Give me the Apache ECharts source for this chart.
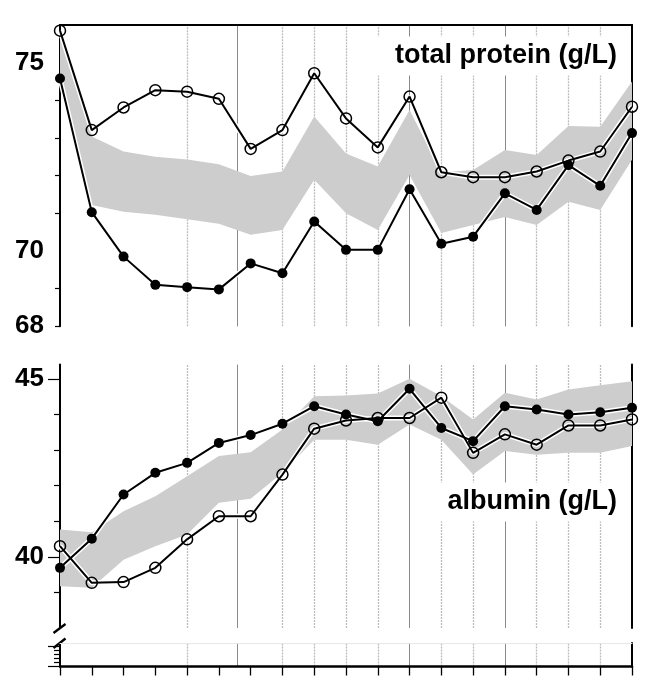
<!DOCTYPE html>
<html>
<head>
<meta charset="utf-8">
<script src="https://cdn.jsdelivr.net/npm/echarts@6/dist/echarts.min.js"></script>
<style>
html,body{margin:0;padding:0;background:#fff;}
#chart{width:645px;height:676px;}
</style>
</head>
<body>
<div id="chart"></div>
<script>
// ---- data ----
const timepoints = [0,1,2,3,4,5,6,7,8,9,10,11,12,13,14,15,16,17,18];

const proteinOpen   = [75.85, 73.21, 73.81, 74.27, 74.23, 74.04, 72.71, 73.21, 74.72, 73.52, 72.75, 74.10, 72.09, 71.96, 71.96, 72.11, 72.40, 72.64, 73.83];
const proteinFilled = [74.58, 71.03, 69.85, 69.10, 69.04, 68.98, 69.67, 69.41, 70.78, 70.03, 70.03, 71.64, 70.19, 70.38, 71.53, 71.09, 72.28, 71.73, 73.13];
const proteinBandHigh = [75.70, 73.04, 72.64, 72.50, 72.43, 72.30, 71.99, 72.11, 73.57, 72.59, 72.24, 73.74, 72.09, 72.15, 72.68, 72.55, 73.32, 73.30, 74.50];
const proteinBandLow  = [74.60, 71.22, 71.04, 70.96, 70.84, 70.72, 70.43, 70.56, 71.89, 71.00, 70.56, 72.02, 70.48, 70.69, 70.90, 70.69, 71.31, 71.09, 72.42];

const albuminFilled = [39.69, 40.51, 41.75, 42.36, 42.64, 43.20, 43.42, 43.74, 44.23, 44.00, 43.81, 44.72, 43.62, 43.25, 44.23, 44.14, 44.00, 44.06, 44.19];
const albuminOpen   = [40.30, 39.27, 39.29, 39.69, 40.49, 41.14, 41.14, 42.31, 43.60, 43.83, 43.90, 43.90, 44.47, 42.92, 43.44, 43.15, 43.69, 43.69, 43.86];
const albuminBandHigh = [40.77, 40.69, 41.28, 41.70, 42.26, 42.83, 42.94, 43.58, 44.51, 44.53, 44.59, 45.00, 44.51, 43.86, 44.61, 44.42, 44.70, 44.82, 44.93];
const albuminBandLow  = [39.17, 39.13, 39.92, 40.30, 40.63, 41.52, 41.63, 42.36, 43.29, 43.29, 43.15, 43.72, 43.29, 42.31, 42.97, 42.87, 42.92, 42.92, 43.11];

const solidGuides  = [5.57, 11, 14];
const dottedGuides = [4, 7, 8, 9, 10, 12, 13, 15, 16, 17];

const proteinLabelTicks = [68, 70, 75];
const proteinMinorTicks = [68, 69, 71, 72, 73, 74];
const albuminMajorTicks = [40, 45];
const albuminMinorTicks = [39, 41, 42, 43, 44];
const breakMajorTicks = [0, 5];
const breakMinorTicks = [1, 2, 3, 4];

const proteinTitle = 'total protein (g/L)';
const albuminTitle = 'albumin (g/L)';

// ---- chart ----
const FONT = '"Liberation Sans", Arial, Helvetica, sans-serif';
const pairs = (ys) => timepoints.map((x, i) => [x, ys[i]]);

function guideSeries(xi, yi) {
  return {
    type: 'line', xAxisIndex: xi, yAxisIndex: yi, data: [], z: 0, silent: true,
    markLine: {
      silent: true, symbol: 'none', label: {show: false}, animation: false, z: 0,
      data: solidGuides.map(v => ({xAxis: v, lineStyle: {color: '#8a8a8a', width: 1, type: 'solid'}}))
        .concat(dottedGuides.map(v => ({xAxis: v, lineStyle: {color: '#bdbdbd', width: 1.3, type: [2, 1]}})))
    }
  };
}
function bandSeries(xi, yi, hi, lo) {
  return {
    type: 'custom', xAxisIndex: xi, yAxisIndex: yi, z: 1, silent: true, clip: true,
    data: timepoints.map((x, i) => [x, lo[i], hi[i]]),
    encode: {x: 0, y: [1, 2]},
    renderItem: function (params, api) {
      if (params.dataIndex !== 0) return null;
      const top = timepoints.map((x, i) => api.coord([x, hi[i]]));
      const bot = timepoints.map((x, i) => api.coord([x, lo[i]])).reverse();
      return {type: 'polygon', shape: {points: top.concat(bot)}, style: {fill: '#cdcdcd', stroke: null}};
    }
  };
}
function markerSeries(xi, yi, ys, open) {
  return [
    {type: 'line', xAxisIndex: xi, yAxisIndex: yi, data: pairs(ys), symbol: 'none',
     lineStyle: {color: '#fff', width: 5}, z: 3, silent: true},
    {type: 'line', xAxisIndex: xi, yAxisIndex: yi, data: pairs(ys),
     symbol: 'circle', symbolSize: open ? 11 : 10,
     itemStyle: open ? {color: 'rgba(255,255,255,0)', borderColor: '#000', borderWidth: 1.5}
                     : {color: '#000', borderColor: '#000', borderWidth: 0},
     lineStyle: {color: '#000', width: 2}, z: 4, silent: true}
  ];
}

const blackLine = (w) => ({show: true, onZero: false, lineStyle: {color: '#000', width: w}});
const xBase = {type: 'value', min: 0, max: 18, splitLine: {show: false}, axisLabel: {show: false}};

const option = {
  animation: false,
  backgroundColor: '#fff',
  grid: [
    {left: 60, right: 13, top: 25, height: 301.3},
    {left: 60, right: 13, top: 364.6, height: 263.4},
    {left: 60, right: 13, top: 643, height: 23.5}
  ],
  xAxis: [
    Object.assign({}, xBase, {gridIndex: 0, position: 'top', axisLine: blackLine(2), axisTick: {show: false}}),
    Object.assign({}, xBase, {gridIndex: 1, axisLine: {show: false, onZero: false}, axisTick: {show: false}}),
    Object.assign({}, xBase, {gridIndex: 2, position: 'bottom', interval: 1, axisLine: blackLine(2.5),
      axisTick: {show: true, length: 9, lineStyle: {color: '#000', width: 1.3}}}),
    Object.assign({}, xBase, {gridIndex: 2, position: 'top',
      axisLine: {show: true, onZero: false, lineStyle: {color: '#e8e8e8', width: 1}}, axisTick: {show: false}})
  ],
  yAxis: [
    {type: 'value', gridIndex: 0, min: 68, max: 76, position: 'left', splitLine: {show: false},
     axisLine: blackLine(2),
     axisTick: {show: true, customValues: proteinMinorTicks, length: 5, lineStyle: {color: '#000', width: 1.2}},
     axisLabel: {show: true, customValues: proteinLabelTicks, margin: 16, color: '#000',
                 fontFamily: FONT, fontWeight: 'bold', fontSize: 26}},
    {type: 'value', gridIndex: 0, min: 68, max: 76, position: 'right', splitLine: {show: false},
     axisLine: blackLine(2), axisTick: {show: false}, axisLabel: {show: false}},
    {type: 'value', gridIndex: 1, min: 38, max: 45.4, position: 'left', splitLine: {show: false},
     axisLine: blackLine(2),
     axisTick: {show: true, customValues: albuminMajorTicks, length: 12, lineStyle: {color: '#000', width: 1.2}},
     axisLabel: {show: true, customValues: albuminMajorTicks, margin: 16, color: '#000',
                 fontFamily: FONT, fontWeight: 'bold', fontSize: 26}},
    {type: 'value', gridIndex: 1, min: 38, max: 45.4, position: 'left', offset: 0, splitLine: {show: false},
     axisLine: {show: false, onZero: false},
     axisTick: {show: true, customValues: albuminMinorTicks, length: 6, lineStyle: {color: '#000', width: 1.2}},
     axisLabel: {show: false}},
    {type: 'value', gridIndex: 1, min: 38, max: 45.4, position: 'right', splitLine: {show: false},
     axisLine: blackLine(2), axisTick: {show: false}, axisLabel: {show: false}},
    {type: 'value', gridIndex: 2, min: 0, max: 5.875, position: 'left', splitLine: {show: false},
     axisLine: blackLine(2),
     axisTick: {show: true, customValues: breakMajorTicks, length: 12, lineStyle: {color: '#000', width: 1.2}},
     axisLabel: {show: false}},
    {type: 'value', gridIndex: 2, min: 0, max: 5.875, position: 'left', offset: 0, splitLine: {show: false},
     axisLine: {show: false, onZero: false},
     axisTick: {show: true, customValues: breakMinorTicks, length: 6, lineStyle: {color: '#000', width: 1.2}},
     axisLabel: {show: false}},
    {type: 'value', gridIndex: 2, min: 0, max: 5.875, position: 'right', splitLine: {show: false},
     axisLine: blackLine(2), axisTick: {show: false}, axisLabel: {show: false}}
  ],
  series: [].concat(
    [guideSeries(0, 0), guideSeries(1, 2), guideSeries(2, 5)],
    [bandSeries(0, 0, proteinBandHigh, proteinBandLow), bandSeries(1, 2, albuminBandHigh, albuminBandLow)],
    markerSeries(0, 0, proteinOpen, true),
    markerSeries(0, 0, proteinFilled, false),
    markerSeries(1, 2, albuminOpen, true),
    markerSeries(1, 2, albuminFilled, false)
  ),
  graphic: [
    {type: 'text', z: 10, x: 621, y: 56,
     style: {text: proteinTitle, align: 'right', verticalAlign: 'middle', fill: '#000',
             font: 'bold 27px ' + FONT, backgroundColor: '#fff', padding: [6, 4, 6, 26]}},
    {type: 'text', z: 10, x: 621, y: 502,
     style: {text: albuminTitle, align: 'right', verticalAlign: 'middle', fill: '#000',
             font: 'bold 27px ' + FONT, backgroundColor: '#fff', padding: [6, 4, 6, 12]}},
    {type: 'group', z: 20, children: [
      {type: 'rect', shape: {x: 52, y: 628, width: 16, height: 14}, style: {fill: '#fff'}},
      {type: 'line', shape: {x1: 53.5, y1: 633, x2: 65.5, y2: 624}, style: {stroke: '#000', lineWidth: 2.3}},
      {type: 'line', shape: {x1: 53.5, y1: 648, x2: 65.5, y2: 638.5}, style: {stroke: '#000', lineWidth: 2.3}}
    ]}
  ]
};

const chart = echarts.init(document.getElementById('chart'), null, {renderer: 'canvas'});
chart.setOption(option);
</script>
</body>
</html>
